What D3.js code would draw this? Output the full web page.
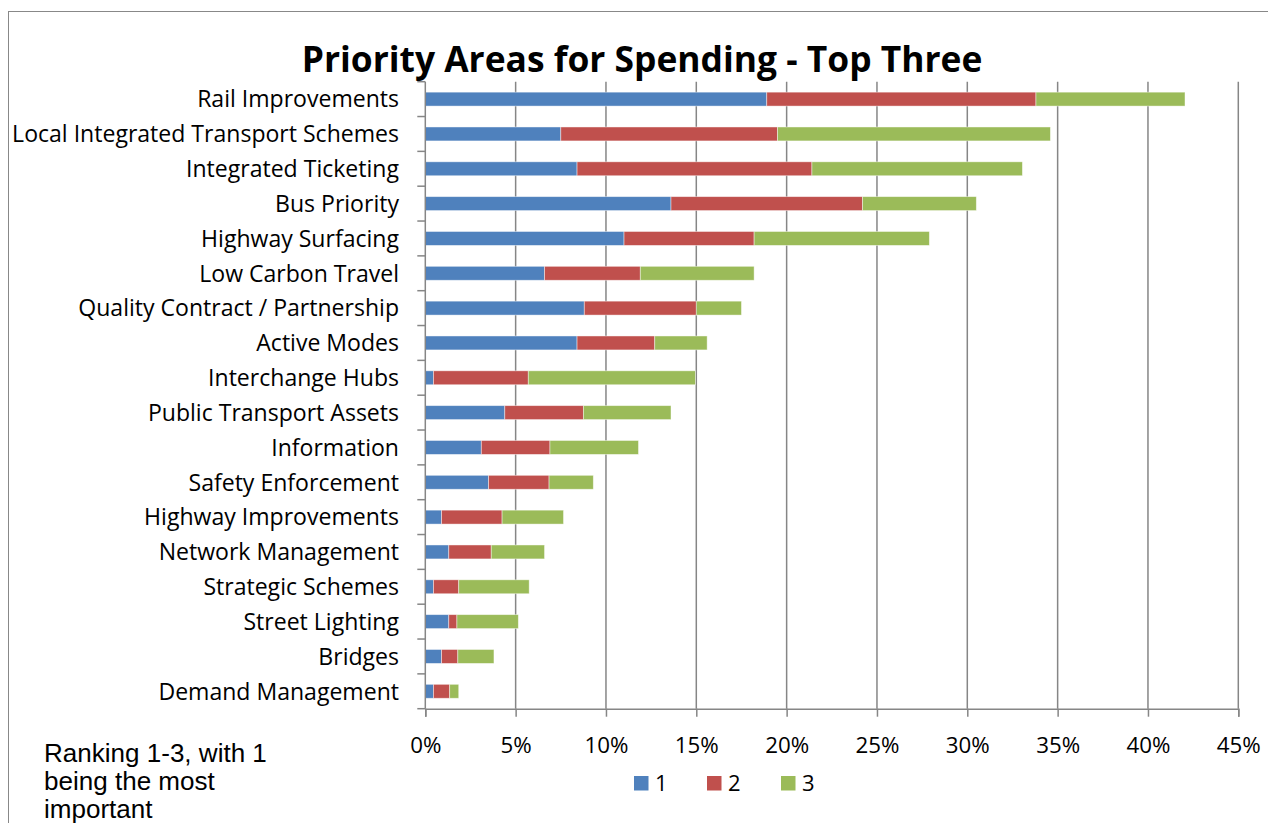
<!DOCTYPE html>
<html>
<head>
<meta charset="utf-8">
<script src="https://cdn.jsdelivr.net/npm/d3@7"></script>
<style>
  html, body { margin: 0; padding: 0; background: #fff; }
  svg { display: block; }
</style>
</head>
<body>
<svg id="chart" width="1268" height="823"></svg>
<script>
// ---- Data ----
const categories = [
  "Rail Improvements",
  "Local Integrated Transport Schemes",
  "Integrated Ticketing",
  "Bus Priority",
  "Highway Surfacing",
  "Low Carbon Travel",
  "Quality Contract / Partnership",
  "Active Modes",
  "Interchange Hubs",
  "Public Transport Assets",
  "Information",
  "Safety Enforcement",
  "Highway Improvements",
  "Network Management",
  "Strategic Schemes",
  "Street Lighting",
  "Bridges",
  "Demand Management"
];
const rank1 = [18.9, 7.5, 8.4, 13.6, 11.0, 6.6, 8.8, 8.4, 0.45, 4.4, 3.1, 3.5, 0.9, 1.3, 0.45, 1.3, 0.9, 0.45];
const rank2 = [14.9, 12.0, 13.0, 10.6, 7.2, 5.3, 6.2, 4.3, 5.25, 4.35, 3.8, 3.35, 3.35, 2.35, 1.4, 0.45, 0.9, 0.9];
const rank3 = [8.25, 15.1, 11.65, 6.3, 9.7, 6.3, 2.5, 2.9, 9.25, 4.85, 4.9, 2.45, 3.4, 2.95, 3.9, 3.4, 2.0, 0.5];
const seriesNames = ["1", "2", "3"];
const xTicks = [0, 5, 10, 15, 20, 25, 30, 35, 40, 45];
const titleText = "Priority Areas for Spending - Top Three";
const noteLines = ["Ranking 1-3, with 1", "being the most", "important"];

// ---- Styles ----
const colors = ["#4F81BD", "#C0504D", "#9BBB59"];
const axisColor = "#868686";
const labelFont = "'Open Sans', 'Noto Sans', sans-serif";

const svg = d3.select("#chart");

// frame
svg.append("rect")
  .attr("x", 8.5).attr("y", 11.5)
  .attr("width", 1300).attr("height", 900)
  .attr("fill", "#fff").attr("stroke", "#888").attr("stroke-width", 1);

const plot = { left: 425.3, right: 1238.3, top: 81.7, bottom: 708.7 };

const x = d3.scaleLinear().domain([0, 45]).range([plot.left, plot.right]);
const y = d3.scaleBand().domain(categories).range([plot.top, plot.bottom])
  .paddingInner(0.6).paddingOuter(0.3);

// gridlines
svg.append("g").selectAll("line")
  .data(xTicks.filter(d => d > 0))
  .join("line")
  .attr("x1", d => x(d)).attr("x2", d => x(d))
  .attr("y1", plot.top).attr("y2", plot.bottom)
  .attr("stroke", axisColor).attr("stroke-width", 1.5);

// stacked data
const rows = categories.map((c, i) => ({ cat: c, s0: rank1[i], s1: rank2[i], s2: rank3[i] }));
const stack = d3.stack().keys(["s0", "s1", "s2"])(rows);

svg.append("g").selectAll("g")
  .data(stack)
  .join("g")
  .attr("fill", (d, i) => colors[i])
  .selectAll("rect")
  .data(d => d)
  .join("rect")
  .attr("x", d => x(d[0]))
  .attr("width", d => x(d[1]) - x(d[0]))
  .attr("y", d => y(d.data.cat))
  .attr("height", y.bandwidth())
  .attr("stroke", "rgba(255,255,255,0.55)")
  .attr("stroke-width", 0.8);

// x axis
const xAxis = svg.append("g")
  .attr("transform", `translate(0,${plot.bottom})`)
  .call(d3.axisBottom(x).tickValues(xTicks).tickFormat(d => d + "%").tickSize(8).tickPadding(20));
xAxis.select(".domain").attr("stroke", axisColor).attr("stroke-width", 1.5);
xAxis.selectAll(".tick line").attr("stroke", axisColor).attr("stroke-width", 1.5);
xAxis.selectAll(".tick text")
  .attr("font-family", labelFont).attr("font-size", 21).attr("fill", "#000");

// y axis line + boundary ticks
svg.append("line")
  .attr("x1", plot.left).attr("x2", plot.left)
  .attr("y1", plot.top).attr("y2", plot.bottom)
  .attr("stroke", axisColor).attr("stroke-width", 1.5);
const step = y.step();
svg.append("g").selectAll("line")
  .data(d3.range(categories.length + 1))
  .join("line")
  .attr("x1", plot.left - 8).attr("x2", plot.left)
  .attr("y1", i => plot.top + i * step).attr("y2", i => plot.top + i * step)
  .attr("stroke", axisColor).attr("stroke-width", 1.5);

// y labels
const yLabels = svg.append("g").selectAll("text")
  .data(categories)
  .join("text")
  .attr("x", 399)
  .attr("y", d => y(d) + y.bandwidth() / 2)
  .attr("dy", "0.36em")
  .attr("text-anchor", "end")
  .attr("font-family", labelFont)
  .attr("font-size", 20)
  .attr("fill", "#000")
  .text(d => d);

// fit label size so the longest label matches reference width (~387px)
(function () {
  const longest = yLabels.filter(d => d === "Local Integrated Transport Schemes").node();
  const w = longest.getComputedTextLength();
  const fs = 20 * 387 / w;
  yLabels.attr("font-size", fs);
  // tick labels: "10%" ~ 45px
  const t10 = xAxis.selectAll(".tick text").filter(d => d === 10).node();
  const fsT = 21 * 44 / t10.getComputedTextLength();
  xAxis.selectAll(".tick text").attr("font-size", fsT);
})();

// title
const title = svg.append("text")
  .attr("x", 642).attr("y", 72)
  .attr("text-anchor", "middle")
  .attr("font-family", labelFont)
  .attr("font-weight", "bold")
  .attr("font-size", 34)
  .attr("fill", "#000")
  .text(titleText);
title.attr("font-size", 34 * 681 / title.node().getComputedTextLength());

// legend
const legendX = [634, 707, 781];
const legend = svg.append("g").selectAll("g")
  .data(seriesNames)
  .join("g")
  .attr("transform", (d, i) => `translate(${legendX[i]},776)`);
legend.append("rect")
  .attr("width", 14.5).attr("height", 14.5)
  .attr("fill", (d, i) => colors[i]);
legend.append("text")
  .attr("x", 21).attr("y", 14.5)
  .attr("font-family", labelFont).attr("font-size", 22)
  .attr("fill", "#000")
  .text(d => d);

// note
const note = svg.append("text")
  .attr("font-family", "'Liberation Sans', Arial, sans-serif")
  .attr("font-size", 24)
  .attr("fill", "#000");
note.selectAll("tspan")
  .data(noteLines)
  .join("tspan")
  .attr("x", 44)
  .attr("y", (d, i) => 761.5 + i * 28.2)
  .text(d => d);
(function () {
  const first = note.select("tspan").node();
  const w = first.getComputedTextLength();
  note.attr("font-size", 24 * 223 / w);
})();
</script>
</body>
</html>
